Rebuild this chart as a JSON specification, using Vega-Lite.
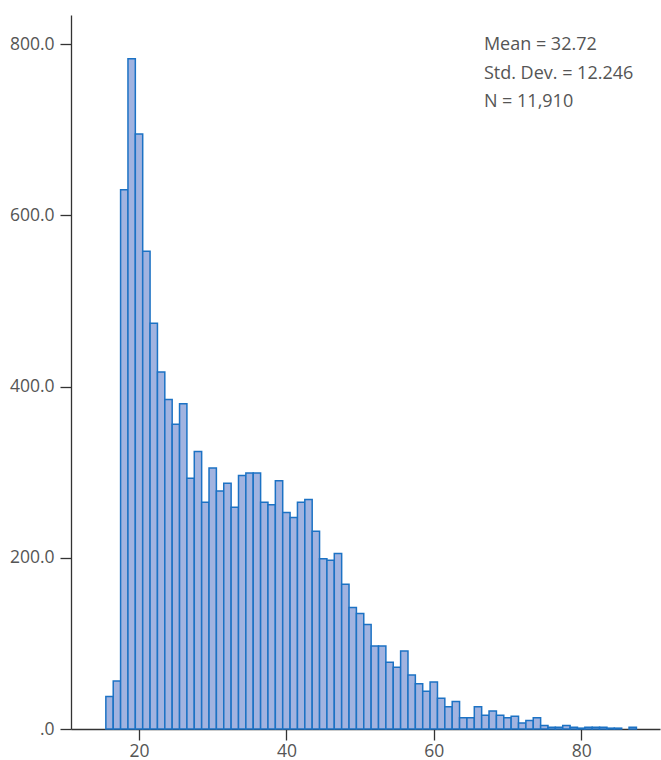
{
  "$schema": "https://vega.github.io/schema/vega-lite/v6.json",
  "width": 589,
  "height": 714,
  "autosize": {"type": "none"},
  "padding": {"left": 71, "top": 15, "right": 1, "bottom": 31},
  "config": {
    "view": {"stroke": null},
    "font": "Open Sans",
    "axis": {
      "grid": false,
      "domainColor": "#333333",
      "domainWidth": 1.3,
      "tickColor": "#333333",
      "tickWidth": 1.3,
      "tickSize": 11,
      "labelFont": "Open Sans",
      "labelFontSize": 17.5,
      "labelColor": "#555555",
      "labelFlush": false,
      "labelOverlap": false,
      "title": null
    }
  },
  "data": {
    "values": [
      {"from": 15.5, "to": 16.5, "count": 38},
      {"from": 16.5, "to": 17.5, "count": 56},
      {"from": 17.5, "to": 18.5, "count": 630},
      {"from": 18.5, "to": 19.5, "count": 783},
      {"from": 19.5, "to": 20.5, "count": 695},
      {"from": 20.5, "to": 21.5, "count": 558},
      {"from": 21.5, "to": 22.5, "count": 474},
      {"from": 22.5, "to": 23.5, "count": 417},
      {"from": 23.5, "to": 24.5, "count": 385},
      {"from": 24.5, "to": 25.5, "count": 356},
      {"from": 25.5, "to": 26.5, "count": 380},
      {"from": 26.5, "to": 27.5, "count": 293},
      {"from": 27.5, "to": 28.5, "count": 324},
      {"from": 28.5, "to": 29.5, "count": 265},
      {"from": 29.5, "to": 30.5, "count": 305},
      {"from": 30.5, "to": 31.5, "count": 278},
      {"from": 31.5, "to": 32.5, "count": 287},
      {"from": 32.5, "to": 33.5, "count": 259},
      {"from": 33.5, "to": 34.5, "count": 296},
      {"from": 34.5, "to": 35.5, "count": 299},
      {"from": 35.5, "to": 36.5, "count": 299},
      {"from": 36.5, "to": 37.5, "count": 265},
      {"from": 37.5, "to": 38.5, "count": 262},
      {"from": 38.5, "to": 39.5, "count": 290},
      {"from": 39.5, "to": 40.5, "count": 253},
      {"from": 40.5, "to": 41.5, "count": 247},
      {"from": 41.5, "to": 42.5, "count": 265},
      {"from": 42.5, "to": 43.5, "count": 268},
      {"from": 43.5, "to": 44.5, "count": 231},
      {"from": 44.5, "to": 45.5, "count": 199},
      {"from": 45.5, "to": 46.5, "count": 197},
      {"from": 46.5, "to": 47.5, "count": 205},
      {"from": 47.5, "to": 48.5, "count": 169},
      {"from": 48.5, "to": 49.5, "count": 142},
      {"from": 49.5, "to": 50.5, "count": 135},
      {"from": 50.5, "to": 51.5, "count": 122},
      {"from": 51.5, "to": 52.5, "count": 97},
      {"from": 52.5, "to": 53.5, "count": 97},
      {"from": 53.5, "to": 54.5, "count": 78},
      {"from": 54.5, "to": 55.5, "count": 72},
      {"from": 55.5, "to": 56.5, "count": 91},
      {"from": 56.5, "to": 57.5, "count": 63},
      {"from": 57.5, "to": 58.5, "count": 53},
      {"from": 58.5, "to": 59.5, "count": 44},
      {"from": 59.5, "to": 60.5, "count": 55},
      {"from": 60.5, "to": 61.5, "count": 36},
      {"from": 61.5, "to": 62.5, "count": 26},
      {"from": 62.5, "to": 63.5, "count": 32},
      {"from": 63.5, "to": 64.5, "count": 13},
      {"from": 64.5, "to": 65.5, "count": 13},
      {"from": 65.5, "to": 66.5, "count": 26},
      {"from": 66.5, "to": 67.5, "count": 16},
      {"from": 67.5, "to": 68.5, "count": 21},
      {"from": 68.5, "to": 69.5, "count": 16},
      {"from": 69.5, "to": 70.5, "count": 13},
      {"from": 70.5, "to": 71.5, "count": 15},
      {"from": 71.5, "to": 72.5, "count": 7},
      {"from": 72.5, "to": 73.5, "count": 10},
      {"from": 73.5, "to": 74.5, "count": 13},
      {"from": 74.5, "to": 75.5, "count": 4},
      {"from": 75.5, "to": 76.5, "count": 2},
      {"from": 76.5, "to": 77.5, "count": 2},
      {"from": 77.5, "to": 78.5, "count": 4},
      {"from": 78.5, "to": 79.5, "count": 2},
      {"from": 79.5, "to": 80.5, "count": 1},
      {"from": 80.5, "to": 81.5, "count": 2},
      {"from": 81.5, "to": 82.5, "count": 2},
      {"from": 82.5, "to": 83.5, "count": 2},
      {"from": 83.5, "to": 84.5, "count": 1},
      {"from": 84.5, "to": 85.5, "count": 1},
      {"from": 86.5, "to": 87.5, "count": 2}
    ]
  },
  "layer": [
    {
      "mark": {"type": "bar", "fill": "#a1b3e0", "stroke": "#1c72c4", "strokeWidth": 1.5},
      "encoding": {
        "x": {
          "field": "from",
          "type": "quantitative",
          "scale": {"domain": [10.77, 90.7], "nice": false, "zero": false},
          "axis": {"values": [20, 40, 60, 80], "format": "d", "labelPadding": 2}
        },
        "x2": {"field": "to"},
        "y": {
          "field": "count",
          "type": "quantitative",
          "scale": {"domain": [0, 834], "nice": false},
          "axis": {
            "values": [0, 200, 400, 600, 800],
            "labelExpr": "datum.value == 0 ? '.0' : format(datum.value, '.1f')",
            "labelPadding": 6
          }
        },
        "y2": {"datum": 0}
      }
    },
    {
      "data": {"values": [{"label": "stats"}]},
      "mark": {
        "type": "text",
        "align": "left",
        "baseline": "top",
        "fontSize": 18,
        "lineHeight": 28.5,
        "fill": "#555555",
        "font": "Open Sans"
      },
      "encoding": {
        "x": {"datum": 66.8},
        "y": {"datum": 809},
        "text": {"value": ["Mean = 32.72", "Std. Dev. = 12.246", "N = 11,910"]}
      }
    }
  ]
}
